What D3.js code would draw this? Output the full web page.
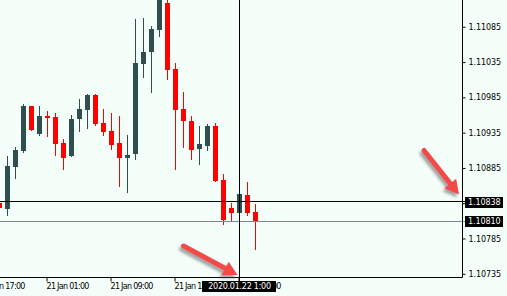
<!DOCTYPE html>
<html>
<head>
<meta charset="utf-8">
<title>EURUSD H1</title>
<style>
  body { margin: 0; padding: 0; background: #f5fffa; }
  svg { display: block; font-family: "DejaVu Sans", Verdana, sans-serif; }
  .axis text { fill: #000; }
  .axis line { stroke: #000; }
  .tag text { fill: #fff; }
</style>
</head>
<body>
<svg id="chart" width="507" height="296"></svg>
<script src="https://cdn.jsdelivr.net/npm/d3@7"></script>
<script>
// hourly candles
var times = [
  "2020-01-20 19:00", "2020-01-20 20:00", "2020-01-20 21:00", "2020-01-20 22:00", "2020-01-20 23:00",
  "2020-01-21 00:00", "2020-01-21 01:00", "2020-01-21 02:00", "2020-01-21 03:00", "2020-01-21 04:00",
  "2020-01-21 05:00", "2020-01-21 06:00", "2020-01-21 07:00", "2020-01-21 08:00", "2020-01-21 09:00",
  "2020-01-21 10:00", "2020-01-21 11:00", "2020-01-21 12:00", "2020-01-21 13:00", "2020-01-21 14:00",
  "2020-01-21 15:00", "2020-01-21 16:00", "2020-01-21 17:00", "2020-01-21 18:00", "2020-01-21 19:00",
  "2020-01-21 20:00", "2020-01-21 21:00", "2020-01-21 22:00", "2020-01-21 23:00", "2020-01-22 00:00",
  "2020-01-22 01:00", "2020-01-22 02:00", "2020-01-22 03:00"
];
var open  = [1.10836, 1.10828, 1.10887, 1.10910, 1.10973, 1.10934, 1.10959, 1.10958, 1.10921, 1.10902,
             1.10955, 1.10968, 1.10989, 1.10949, 1.10938, 1.10921, 1.10900, 1.10905, 1.11033, 1.11050,
             1.11081, 1.11120, 1.11026, 1.10969, 1.10952, 1.10913, 1.10917, 1.10945, 1.10869, 1.10829,
             1.10822, 1.10847, 1.10823];
var high  = [1.10837, 1.10903, 1.10916, 1.10976, 1.10974, 1.10973, 1.10966, 1.10964, 1.10927, 1.10961,
             1.10983, 1.10990, 1.10991, 1.10969, 1.10964, 1.10959, 1.10932, 1.11097, 1.11098, 1.11087,
             1.11140, 1.11130, 1.11034, 1.10993, 1.10959, 1.10945, 1.10948, 1.10949, 1.10877, 1.10836,
             1.10852, 1.10866, 1.10835];
var low   = [1.10828, 1.10818, 1.10870, 1.10907, 1.10938, 1.10931, 1.10930, 1.10903, 1.10883, 1.10901,
             1.10937, 1.10941, 1.10945, 1.10931, 1.10911, 1.10859, 1.10850, 1.10897, 1.11013, 1.10992,
             1.11071, 1.11010, 1.10883, 1.10914, 1.10897, 1.10890, 1.10910, 1.10866, 1.10805, 1.10811,
             1.10820, 1.10818, 1.10769];
var close = [1.10829, 1.10888, 1.10911, 1.10973, 1.10939, 1.10959, 1.10956, 1.10920, 1.10900, 1.10955,
             1.10969, 1.10989, 1.10948, 1.10936, 1.10918, 1.10900, 1.10904, 1.11034, 1.11050, 1.11083,
             1.11125, 1.11025, 1.10968, 1.10952, 1.10911, 1.10920, 1.10945, 1.10867, 1.10812, 1.10822,
             1.10849, 1.10822, 1.10810];

var timeTicks = ["2020-01-20 17:00", "2020-01-21 01:00", "2020-01-21 09:00", "2020-01-21 17:00", "2020-01-22 01:00"];
var timeTickLabels = ["20 Jan 17:00", "21 Jan 01:00", "21 Jan 09:00", "21 Jan 17:00", "22 Jan 01:00"];
var priceTicks = [1.11085, 1.11035, 1.10985, 1.10935, 1.10885, 1.10835, 1.10785, 1.10735];

var crossTime = "2020-01-22 01:00", crossLabel = "2020.01.22 1:00";
var crossPrice = 1.10838;
var bidPrice = 1.10810;

var W = 507, H = 296, plotW = 462, plotH = 277;
var bull = "#2f4f4f", bear = "#ff0000";
var font = "'DejaVu Sans', Verdana, sans-serif";

var parse = d3.timeParse("%Y-%m-%d %H:%M");
var data = times.map(function(t, i) {
  return {t: parse(t), o: open[i], h: high[i], l: low[i], c: close[i]};
});

var hour = 3600e3;
var t0 = data[0].t;
var x = d3.scaleTime()
  .domain([new Date(+t0 + hour / 16), new Date(+t0 + hour / 16 + 57.75 * hour)])
  .range([0, plotW]);
var y = d3.scaleLinear()
  .domain([1.10735, 1.11085])
  .range([274.3, 27.3]);

function crisp(v) { return Math.floor(v) + 0.5; }

var svg = d3.select("#chart");

svg.append("defs").append("filter")
  .attr("id", "shadow").attr("x", "-30%").attr("y", "-30%").attr("width", "160%").attr("height", "160%")
  .append("feDropShadow")
  .attr("dx", -2).attr("dy", 3).attr("stdDeviation", 1.6)
  .attr("flood-color", "#555").attr("flood-opacity", 0.55);

svg.select("defs").append("clipPath").attr("id", "plot")
  .append("rect").attr("width", plotW).attr("height", plotH);

// candles
var candles = svg.append("g").attr("clip-path", "url(#plot)").attr("shape-rendering", "crispEdges");

candles.selectAll(".wick")
  .data(data)
  .enter().append("rect")
  .attr("class", "wick")
  .attr("x", function(d) { return x(d.t) - 0.5; })
  .attr("width", 1)
  .attr("y", function(d) { return Math.round(y(d.h)); })
  .attr("height", function(d) { return Math.max(1, Math.round(y(d.l)) - Math.round(y(d.h))); })
  .attr("fill", function(d) { return d.c >= d.o ? bull : bear; });

candles.selectAll(".body")
  .data(data)
  .enter().append("rect")
  .attr("class", "body")
  .attr("x", function(d) { return x(d.t) - 2.5; })
  .attr("width", 5)
  .attr("y", function(d) { return Math.round(y(Math.max(d.o, d.c))); })
  .attr("height", function(d) {
    return Math.max(2, Math.round(y(Math.min(d.o, d.c))) - Math.round(y(Math.max(d.o, d.c))));
  })
  .attr("fill", function(d) { return d.c >= d.o ? bull : bear; });

// bid line
svg.append("line")
  .attr("x1", 0).attr("x2", plotW + 3)
  .attr("y1", crisp(y(bidPrice))).attr("y2", crisp(y(bidPrice)))
  .attr("stroke", "#778899");

// crosshair
var cx = crisp(x(parse(crossTime)));
var cy = crisp(y(crossPrice));
svg.append("line")
  .attr("x1", 0).attr("x2", plotW + 3).attr("y1", cy).attr("y2", cy)
  .attr("stroke", "#000");
svg.append("line")
  .attr("x1", cx).attr("x2", cx).attr("y1", 0).attr("y2", plotH + 5)
  .attr("stroke", "#000");

// axes
var xAxis = d3.axisBottom(x)
  .tickValues(timeTicks.map(parse))
  .tickFormat(function(d, i) { return timeTickLabels[i]; })
  .tickSize(4).tickSizeOuter(0).offset(0);

var gx = svg.append("g").attr("class", "axis")
  .attr("transform", "translate(0," + (plotH + 0.5) + ")")
  .call(xAxis);
gx.select(".domain").remove();
gx.selectAll(".tick line").attr("transform", "translate(-0.5,0)");
gx.selectAll(".tick text")
  .attr("text-anchor", "start")
  .attr("x", -1).attr("y", 6).attr("dy", "0.71em")
  .style("font-family", font)
  .style("font-size", "8px").style("letter-spacing", "-0.7px");

var yAxis = d3.axisRight(y)
  .tickValues(priceTicks)
  .tickFormat(d3.format(".5f"))
  .tickSize(3).tickSizeOuter(0).offset(0);

var gy = svg.append("g").attr("class", "axis")
  .attr("transform", "translate(" + (plotW + 0.5) + ",0)")
  .call(yAxis);
gy.select(".domain").remove();
gy.selectAll(".tick text").attr("x", 6)
  .style("font-family", font)
  .style("font-size", "8px").style("letter-spacing", "-0.1px");

svg.append("path")
  .attr("d", "M0," + (plotH + 0.5) + "H" + (plotW + 0.5) + "V0")
  .attr("fill", "none").attr("stroke", "#000");

// price tags
function tag(price, label) {
  var g = svg.append("g").attr("class", "tag");
  var yy = Math.round(y(price));
  g.append("rect").attr("x", plotW + 3).attr("y", yy - 5).attr("width", 38).attr("height", 11).attr("fill", "#000");
  g.append("text").attr("x", plotW + 6).attr("y", yy).attr("dy", "0.35em")
    .style("font-size", "8px").style("letter-spacing", "-0.1px").text(label);
}
tag(crossPrice, d3.format(".5f")(crossPrice));
tag(bidPrice, d3.format(".5f")(bidPrice));

// time tag under crosshair
var tg = svg.append("g").attr("class", "tag");
tg.append("rect").attr("x", cx - 37.5).attr("y", plotH + 4).attr("width", 74).attr("height", 11).attr("fill", "#000");
tg.append("text").attr("x", cx).attr("y", plotH + 9.5).attr("dy", "0.35em")
  .attr("text-anchor", "middle").style("font-size", "8px").style("letter-spacing", "-0.25px").text(crossLabel);

// annotation arrows
function arrow(x0, y0, x1, y1) {
  var dx = x1 - x0, dy = y1 - y0, len = Math.sqrt(dx * dx + dy * dy);
  var ux = dx / len, uy = dy / len, hl = 14, hw = 7.5;
  var bx = x1 - ux * hl, by = y1 - uy * hl;
  var g = svg.append("g").attr("filter", "url(#shadow)");
  g.append("line")
    .attr("x1", x0).attr("y1", y0).attr("x2", bx + ux * 2).attr("y2", by + uy * 2)
    .attr("stroke", "#f24848").attr("stroke-width", 5).attr("stroke-linecap", "round");
  g.append("path")
    .attr("d", "M" + x1 + "," + y1 +
      "L" + (bx - uy * hw) + "," + (by + ux * hw) +
      "L" + (bx + uy * hw) + "," + (by - ux * hw) + "Z")
    .attr("fill", "#f24848");
}
arrow(plotW - 38, cy - 51, plotW - 3, cy - 7);
arrow(cx - 56, plotH - 31, cx - 2, plotH - 2);
</script>
</body>
</html>
